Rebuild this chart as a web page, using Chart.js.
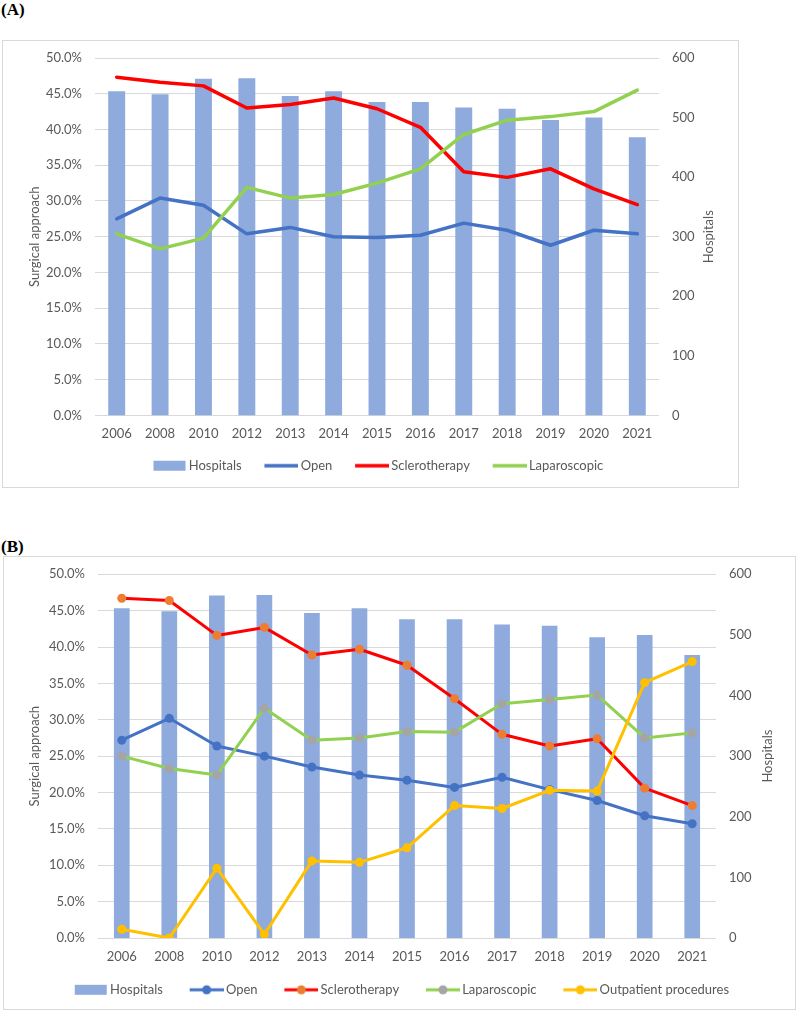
<!DOCTYPE html>
<html>
<head>
<meta charset="utf-8">
<script src="https://cdn.jsdelivr.net/npm/chart.js@4.4.1/dist/chart.umd.min.js"></script>
<style>
  body { margin: 0; background: #fff; width: 797px; height: 1013px; position: relative; overflow: hidden; }
  .tag { position: absolute; left: 1px; font: bold 17px "Liberation Serif", "DejaVu Serif", serif; color: #000; line-height: 20px; }
  .box { position: absolute; border: 1px solid #d9d9d9; box-sizing: border-box; }
  .box canvas { display: block; }
</style>
</head>
<body>
<div class="tag" style="top:0px">(A)</div>
<div class="box" style="left:2px;top:40px;width:737px;height:448px"><canvas id="chartA" width="735" height="446"></canvas></div>
<div class="tag" style="top:537px">(B)</div>
<div class="box" style="left:3px;top:556px;width:793px;height:454px"><canvas id="chartB" width="791" height="452"></canvas></div>

<script>
const years = ['2006', '2008', '2010', '2012', '2013', '2014', '2015', '2016', '2017', '2018', '2019', '2020', '2021'];
const hospitals = [544, 539, 565, 566, 536, 544, 526, 526, 517, 515, 496, 500, 467];

// (A) surgical approach, %
const openA = [27.5, 30.4, 29.4, 25.4, 26.3, 25.0, 24.9, 25.2, 26.9, 25.9, 23.8, 25.9, 25.4];
const scleroA = [47.3, 46.6, 46.1, 43.0, 43.5, 44.4, 42.9, 40.3, 34.1, 33.3, 34.5, 31.7, 29.5];
const laparoA = [25.4, 23.3, 24.8, 31.9, 30.4, 30.9, 32.5, 34.5, 39.3, 41.3, 41.8, 42.5, 45.5];

// (B) surgical approach incl. outpatient, %
const openB = [27.2, 30.2, 26.4, 25.0, 23.5, 22.4, 21.7, 20.7, 22.1, 20.4, 18.9, 16.8, 15.7];
const scleroB = [46.7, 46.4, 41.6, 42.7, 38.9, 39.7, 37.5, 32.9, 28.0, 26.4, 27.4, 20.6, 18.2];
const laparoB = [25.0, 23.3, 22.4, 31.6, 27.2, 27.5, 28.4, 28.3, 32.2, 32.8, 33.4, 27.5, 28.2];
const outpatientB = [1.2, 0.0, 9.6, 0.5, 10.6, 10.4, 12.4, 18.2, 17.8, 20.3, 20.2, 35.1, 38.0];

const pctMax = 50, pctStep = 5;
const hospMax = 600, hospStep = 100;

const BAR = '#8faadc', BLUE = '#4472c4', RED = '#ff0000', GREEN = '#92d050',
      ORANGE = '#ed7d31', GREY = '#a5a5a5', YELLOW = '#ffc000';
const TEXT = '#595959', GRID = '#d9d9d9';
const FONT = { family: 'Lato, "Open Sans", sans-serif', size: 13 };

// small legend pictures: bar box, line, line with marker.
// The visible 34px sit at the right end so the text follows closely.
function icon(boxW, kind, line, marker, lw) {
    const c = document.createElement('canvas');
    c.width = boxW + 9; c.height = 12;
    const g = c.getContext('2d');
    const x0 = c.width - 34;
    if (kind === 'bar') {
        g.fillStyle = line;
        g.fillRect(x0 + 1, 1, 32, 10);
    } else {
        g.strokeStyle = line;
        g.lineWidth = lw;
        g.beginPath(); g.moveTo(x0, 6); g.lineTo(x0 + 34, 6); g.stroke();
        if (marker) {
            g.fillStyle = marker;
            g.beginPath(); g.arc(x0 + 17, 6, 4.5, 0, 2 * Math.PI); g.fill();
        }
    }
    return c;
}

// right axis title in Excel style (reads bottom to top), and a small legend nudge
const rightTitle = {
    id: 'rightTitle',
    afterLayout(chart, args, opts) {
        chart.legend.left -= opts.legendShift;
        chart.legend.right -= opts.legendShift;
    },
    afterDraw(chart, args, opts) {
        const { ctx, chartArea } = chart;
        ctx.save();
        ctx.font = '13px Lato, "Open Sans", sans-serif';
        ctx.fillStyle = TEXT;
        ctx.textAlign = 'center';
        ctx.textBaseline = 'middle';
        ctx.translate(opts.x, (chartArea.top + chartArea.bottom) / 2);
        ctx.rotate(-Math.PI / 2);
        ctx.fillText(opts.text, 0, 0);
        ctx.restore();
    }
};

function options(g, icons) {
    return {
        responsive: false,
        animation: false,
        layout: { padding: { left: g.padLeft, right: 0, top: g.padTop, bottom: g.padBottom } },
        plugins: {
            tooltip: { enabled: false },
            rightTitle: { x: g.titleX, text: 'Hospitals', legendShift: g.legendShift },
            legend: {
                position: 'bottom',
                labels: {
                    usePointStyle: true,
                    pointStyleWidth: g.boxW,
                    padding: g.legendPad,
                    color: TEXT,
                    font: FONT,
                    generateLabels: (chart) => chart.data.datasets.map((ds, i) => ({
                        text: ds.label,
                        pointStyle: icons[i],
                        fillStyle: '#000',
                        strokeStyle: '#000',
                        lineWidth: 0,
                        fontColor: TEXT,
                        hidden: false,
                        datasetIndex: i
                    }))
                }
            }
        },
        scales: {
            x: {
                grid: { display: false, drawTicks: false },
                border: { display: false },
                ticks: { color: TEXT, font: FONT, padding: 11, maxRotation: 0, autoSkip: false },
                afterFit: (s) => { s.height = g.xHeight; }
            },
            y: {
                position: 'left',
                min: 0, max: pctMax,
                grid: { color: GRID, drawTicks: true, tickLength: 4, tickColor: 'rgba(0,0,0,0)' },
                border: { display: false },
                ticks: { stepSize: pctStep, color: TEXT, font: FONT, padding: 9,
                         callback: (v) => v.toFixed(1) + '%' },
                title: { display: true, text: 'Surgical approach', color: TEXT, font: FONT },
                afterFit: (s) => { s.width = g.leftWidth; }
            },
            y2: {
                position: 'right',
                min: 0, max: hospMax,
                grid: { display: false, drawTicks: true, tickLength: 4 },
                border: { display: false },
                ticks: { stepSize: hospStep, color: TEXT, font: FONT, padding: 9 },
                afterFit: (s) => { s.width = g.rightWidth; }
            }
        }
    };
}

function lineSet(label, data, color, marker, lw, order) {
    return {
        type: 'line',
        label: label,
        data: data,
        yAxisID: 'y',
        borderColor: color,
        backgroundColor: color,
        borderWidth: lw,
        borderJoinStyle: 'round',
        borderCapStyle: 'round',
        tension: 0,
        pointRadius: marker ? 4.5 : 0,
        pointBackgroundColor: marker,
        pointBorderColor: marker,
        pointBorderWidth: 0,
        order: order
    };
}

// Chart (A)
const boxA = 37.5;
new Chart(document.getElementById('chartA').getContext('2d'), {
    type: 'bar',
    data: {
        labels: years,
        datasets: [
            { type: 'bar', label: 'Hospitals', data: hospitals, yAxisID: 'y2', backgroundColor: BAR,
              categoryPercentage: 1, barPercentage: 0.39, order: 10 },
            lineSet('Open', openA, BLUE, null, 3.5, 3),
            lineSet('Sclerotherapy', scleroA, RED, null, 3.5, 2),
            lineSet('Laparoscopic', laparoA, GREEN, null, 3.5, 1)
        ]
    },
    options: options(
        { padLeft: 20, padTop: 17, padBottom: 4.8, leftWidth: 72, rightWidth: 79, xHeight: 28.8,
          legendPad: 15, boxW: boxA, legendShift: 6.5, titleX: 706 },
        [icon(boxA, 'bar', BAR), icon(boxA, 'line', BLUE, null, 3.5),
         icon(boxA, 'line', RED, null, 3.5), icon(boxA, 'line', GREEN, null, 3.5)]
    ),
    plugins: [rightTitle]
});

// Chart (B)
const boxB = 43.5;
new Chart(document.getElementById('chartB').getContext('2d'), {
    type: 'bar',
    data: {
        labels: years,
        datasets: [
            { type: 'bar', label: 'Hospitals', data: hospitals, yAxisID: 'y2', backgroundColor: BAR,
              categoryPercentage: 1, barPercentage: 0.33, order: 10 },
            lineSet('Open', openB, BLUE, BLUE, 3, 4),
            lineSet('Sclerotherapy', scleroB, RED, ORANGE, 3, 3),
            lineSet('Laparoscopic', laparoB, GREEN, GREY, 3, 2),
            lineSet('Outpatient procedures', outpatientB, YELLOW, YELLOW, 3, 1)
        ]
    },
    options: options(
        { padLeft: 19, padTop: 17.3, padBottom: 2.7, leftWidth: 75, rightWidth: 79, xHeight: 32.3,
          legendPad: 13, boxW: boxB, legendShift: 14.5, titleX: 764 },
        [icon(boxB, 'bar', BAR), icon(boxB, 'line', BLUE, BLUE, 3), icon(boxB, 'line', RED, ORANGE, 3),
         icon(boxB, 'line', GREEN, GREY, 3), icon(boxB, 'line', YELLOW, YELLOW, 3)]
    ),
    plugins: [rightTitle]
});
</script>
</body>
</html>
